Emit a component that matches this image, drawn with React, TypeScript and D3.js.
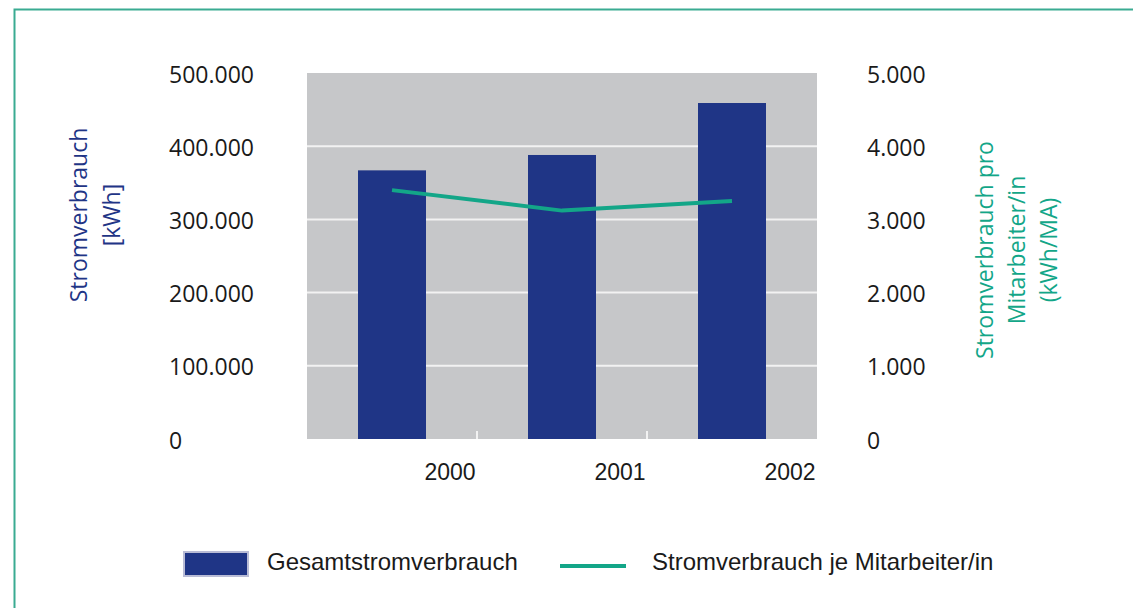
import React from 'react';
import * as d3 from 'd3';

const years = ['2000', '2001', '2002'];
const totalKWh = [367000, 388000, 459000];
const perEmployee = [3400, 3120, 3250];
const leftTicks = [0, 100000, 200000, 300000, 400000, 500000];
const rightTicks = [0, 1000, 2000, 3000, 4000, 5000];

const BLUE = '#1f3586';
const GREEN = '#13a688';
const GRAY = '#c6c7c9';

const fmt = (v: number) => (v === 0 ? '0' : d3.format(',')(v).replace(/,/g, '.'));

export default function App() {
  const W = 1133;
  const H = 608;
  const plot = { left: 307, right: 817, top: 73, bottom: 439 };

  const x = d3.scaleBand<string>()
    .domain(years)
    .range([plot.left, plot.right])
    .paddingInner(0.6)
    .paddingOuter(0.3);
  const y = d3.scaleLinear().domain([0, 500000]).range([plot.bottom, plot.top]);
  const y2 = d3.scaleLinear().domain([0, 5000]).range([plot.bottom, plot.top]);

  const line = d3.line<number>()
    .x((_, i) => (x(years[i]) as number) + x.bandwidth() / 2)
    .y(d => y2(d));

  const tickFont = '"Open Sans", sans-serif';
  const legendFont = '"Liberation Sans", Arial, sans-serif';

  // small white ticks between categories
  const step = x.step();
  const sepXs = years.slice(1).map((_, i) => plot.left + step * (i + 1));

  return (
    <svg width={W} height={H} style={{ position: 'absolute', left: 0, top: 0 }}>
      <rect x={0} y={0} width={W} height={H} fill="#fff" />
      {/* frame */}
      <path d={`M14.5,${H} V9.5 H${W}`} fill="none" stroke="#3aab92" strokeWidth={2} />

      {/* plot background */}
      <rect x={plot.left} y={plot.top} width={plot.right - plot.left} height={plot.bottom - plot.top} fill={GRAY} />
      {leftTicks.slice(1, -1).map(t => (
        <line key={t} x1={plot.left} x2={plot.right} y1={y(t)} y2={y(t)} stroke="#f2f2f2" strokeWidth={2} />
      ))}
      {sepXs.map(sx => (
        <line key={sx} x1={sx} x2={sx} y1={plot.bottom - 8} y2={plot.bottom} stroke="#f2f2f2" strokeWidth={2} />
      ))}

      {/* bars */}
      {years.map((yr, i) => (
        <rect key={yr} x={x(yr)} y={y(totalKWh[i])} width={x.bandwidth()} height={plot.bottom - y(totalKWh[i])} fill={BLUE} />
      ))}

      {/* line */}
      <path d={line(perEmployee) || ''} fill="none" stroke={GREEN} strokeWidth={4} strokeLinejoin="round" />

      {/* left axis (labels left-aligned) */}
      {leftTicks.map(t => (
        <text key={t} x={169} y={y(t) + 1.5} dy="0.35em" textAnchor="start" fontFamily={tickFont} fontSize={23} fill="#1a1a1a">
          {fmt(t)}
        </text>
      ))}
      {/* right axis */}
      {rightTicks.map(t => (
        <text key={t} x={867} y={y2(t) + 1.5} dy="0.35em" textAnchor="start" fontFamily={tickFont} fontSize={23} fill="#1a1a1a">
          {fmt(t)}
        </text>
      ))}
      {/* x labels */}
      {years.map(yr => (
        <text key={yr} x={(x(yr) as number) + x.bandwidth() / 2 + 58} y={472} dy="0.35em" textAnchor="middle" fontFamily={legendFont} fontSize={23} fill="#1a1a1a">
          {yr}
        </text>
      ))}

      {/* axis titles */}
      <text transform="translate(79,215) rotate(-90)" textAnchor="middle" fontFamily={tickFont} fontSize={23} fill={BLUE}>
        <tspan x={0} dy="0.35em">Stromverbrauch</tspan>
        <tspan x={0} dy={33}>[kWh]</tspan>
      </text>
      <text transform="translate(985,250) rotate(-90)" textAnchor="middle" fontFamily={tickFont} fontSize={23} fill={GREEN}>
        <tspan x={0} dy="0.35em">Stromverbrauch pro</tspan>
        <tspan x={0} dy={32}>Mitarbeiter/in</tspan>
        <tspan x={0} dy={32}>(kWh/MA)</tspan>
      </text>

      {/* legend */}
      <rect x={184} y={552} width={64} height={24} fill={BLUE} stroke="#b9bcd6" strokeWidth={2} />
      <text x={267} y={562} dy="0.35em" fontFamily={legendFont} fontSize={24} fill="#1a1a1a">Gesamtstromverbrauch</text>
      <line x1={560} x2={626} y1={566} y2={566} stroke={GREEN} strokeWidth={4} />
      <text x={652} y={562} dy="0.35em" fontFamily={legendFont} fontSize={24} fill="#1a1a1a">Stromverbrauch je Mitarbeiter/in</text>
    </svg>
  );
}
